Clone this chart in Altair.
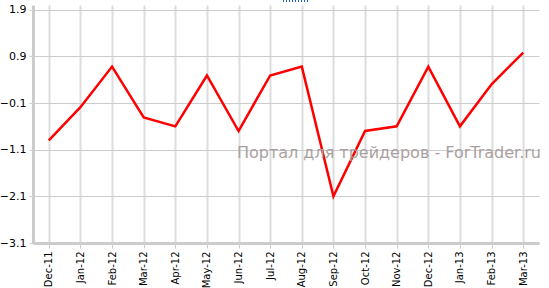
import altair as alt
import pandas as pd

months = ["Dec-11", "Jan-12", "Feb-12", "Mar-12", "Apr-12", "May-12", "Jun-12", "Jul-12",
          "Aug-12", "Sep-12", "Oct-12", "Nov-12", "Dec-12", "Jan-13", "Feb-13", "Mar-13"]
values = [-0.90, -0.19, 0.68, -0.41, -0.60, 0.49, -0.70, 0.49,
          0.68, -2.10, -0.70, -0.60, 0.68, -0.60, 0.30, 0.98]
y_ticks = [-3.1, -2.1, -1.1, -0.1, 0.9, 1.9]
watermark = "Портал для трейдеров - ForTrader.ru"

df = pd.DataFrame({"month": months, "value": values})

x = alt.X("month:N", sort=months, title=None,
          scale=alt.Scale(type="point", padding=0.5),
          axis=alt.Axis(labelAngle=270, labelAlign="right", labelBaseline="middle",
                        labelFontSize=10, labelColor="#000000", labelFont="DejaVu Sans",
                        labelPadding=3, tickSize=5, tickColor="#cccccc",
                        domainColor="#cccccc", domainWidth=3,
                        grid=True, gridColor="#dddddd", gridWidth=2))
y = alt.Y("value:Q", title=None,
          scale=alt.Scale(domain=[-3.1, 2.0], nice=False, zero=False),
          axis=alt.Axis(values=y_ticks, format=".1f", labelFontSize=11,
                        labelColor="#000000", labelFont="DejaVu Sans",
                        labelPadding=3, tickSize=4, tickColor="#cccccc",
                        domainColor="#cccccc", domainWidth=3,
                        grid=True, gridColor="#cccccc", gridWidth=1))

line = alt.Chart(df).mark_line(color="#ff0000", strokeWidth=2.5).encode(x=x, y=y)

wm = alt.Chart(pd.DataFrame({"t": [watermark]})).mark_text(
    align="right", baseline="alphabetic", fontSize=16, font="DejaVu Sans",
    color="#a9a1a1"
).encode(text="t:N", x=alt.value(508), y=alt.value(153))

dots = alt.Chart(pd.DataFrame({"a": [0]})).mark_rule(
    color="#1a5fc8", strokeWidth=2, strokeDash=[1, 2]
).encode(x=alt.value(250), x2=alt.value(277), y=alt.value(-4))

chart = (line + wm + dots).properties(
    width=506, height=238,
    autosize=alt.AutoSizeParams(type="none"),
    padding={"left": 33, "top": 5, "right": 10, "bottom": 45},
    background="#ffffff"
).configure_view(stroke=None)

chart.save("out.html", embed_options={"renderer": "svg", "actions": False})
